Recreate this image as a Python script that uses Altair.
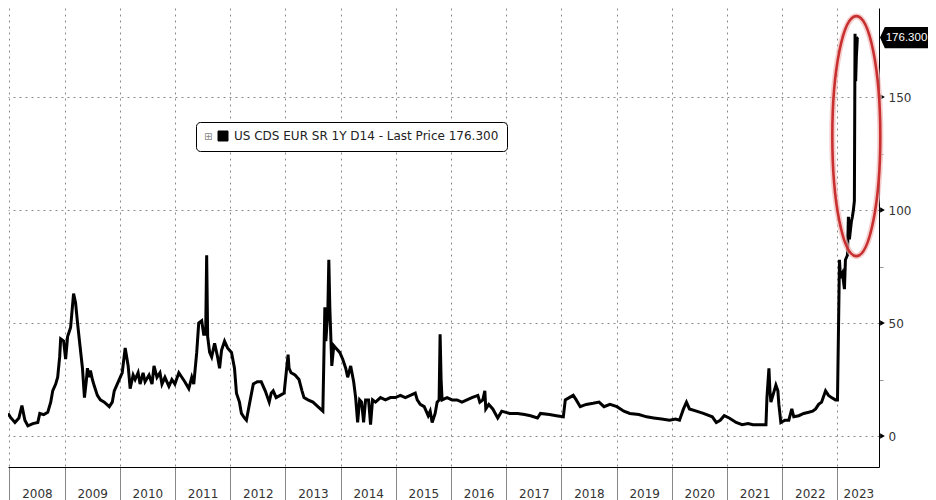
import altair as alt
import pandas as pd

FONT = "DejaVu Sans"
series_name = "US CDS EUR SR 1Y D14 - Last Price 176.300"
last_price = 176.3
last_label = "176.300"

# decimal years (time) and CDS spread values
t_years = [
    2007.975, 2008.029, 2008.101, 2008.173, 2008.227, 2008.281, 2008.335, 2008.425, 2008.515, 2008.551,
    2008.623, 2008.695, 2008.749, 2008.785, 2008.839, 2008.875, 2008.911, 2008.929, 2008.983, 2009.019,
    2009.055, 2009.109, 2009.145, 2009.163, 2009.199, 2009.235, 2009.270, 2009.324, 2009.360, 2009.396,
    2009.414, 2009.450, 2009.468, 2009.504, 2009.540, 2009.594, 2009.648, 2009.720, 2009.810, 2009.864,
    2009.900, 2009.990, 2010.044, 2010.098, 2010.152, 2010.188, 2010.242, 2010.278, 2010.332, 2010.368,
    2010.422, 2010.458, 2010.530, 2010.584, 2010.620, 2010.674, 2010.728, 2010.764, 2010.818, 2010.890,
    2010.944, 2010.998, 2011.070, 2011.124, 2011.178, 2011.250, 2011.304, 2011.340, 2011.394, 2011.430,
    2011.484, 2011.520, 2011.556, 2011.574, 2011.592, 2011.628, 2011.664, 2011.718, 2011.772, 2011.808,
    2011.844, 2011.898, 2011.952, 2012.024, 2012.078, 2012.114, 2012.168, 2012.204, 2012.258, 2012.294,
    2012.348, 2012.419, 2012.491, 2012.563, 2012.635, 2012.707, 2012.743, 2012.779, 2012.833, 2012.905,
    2012.977, 2013.049, 2013.067, 2013.103, 2013.175, 2013.247, 2013.301, 2013.337, 2013.409, 2013.499,
    2013.589, 2013.679, 2013.715, 2013.733, 2013.769, 2013.787, 2013.805, 2013.841, 2013.877, 2013.913,
    2013.985, 2014.039, 2014.093, 2014.129, 2014.183, 2014.237, 2014.273, 2014.309, 2014.345, 2014.381,
    2014.417, 2014.453, 2014.507, 2014.543, 2014.579, 2014.633, 2014.723, 2014.813, 2014.903, 2014.993,
    2015.083, 2015.173, 2015.263, 2015.353, 2015.389, 2015.443, 2015.515, 2015.587, 2015.623, 2015.659,
    2015.713, 2015.749, 2015.785, 2015.803, 2015.821, 2015.839, 2015.929, 2016.019, 2016.109, 2016.199,
    2016.289, 2016.379, 2016.487, 2016.523, 2016.577, 2016.613, 2016.631, 2016.685, 2016.757, 2016.847,
    2016.919, 2017.063, 2017.207, 2017.333, 2017.441, 2017.567, 2017.621, 2017.783, 2017.909, 2018.035,
    2018.071, 2018.143, 2018.215, 2018.269, 2018.341, 2018.449, 2018.575, 2018.683, 2018.772, 2018.880,
    2019.006, 2019.132, 2019.240, 2019.402, 2019.546, 2019.672, 2019.816, 2019.960, 2020.068, 2020.140,
    2020.212, 2020.266, 2020.320, 2020.446, 2020.572, 2020.734, 2020.806, 2020.878, 2020.950, 2021.040,
    2021.166, 2021.274, 2021.382, 2021.472, 2021.562, 2021.706, 2021.724, 2021.760, 2021.778, 2021.796,
    2021.832, 2021.886, 2021.922, 2021.940, 2021.976, 2022.048, 2022.120, 2022.174, 2022.210, 2022.300,
    2022.390, 2022.480, 2022.552, 2022.606, 2022.660, 2022.714, 2022.786, 2022.840, 2022.894, 2022.966,
    2023.002, 2023.038, 2023.056, 2023.092, 2023.128, 2023.146, 2023.182, 2023.200, 2023.218, 2023.254,
    2023.272, 2023.290, 2023.308, 2023.320, 2023.331, 2023.344, 2023.362, 2023.380,
]
cds_values = [
    10, 8, 6, 8, 13.5, 7, 4.5, 5.5, 6, 10,
    9.5, 10.5, 15, 20, 23, 26, 35, 43, 42, 34,
    44, 48, 58, 63, 59, 50, 42, 30, 17, 25,
    30, 26, 29, 25, 22, 18, 16, 15, 13, 15,
    20, 25, 28, 39, 31, 21, 27, 25, 28, 23,
    28, 24, 27, 23, 31, 26, 28, 23, 26, 22,
    25, 23, 28, 26, 24, 21, 26, 23, 37, 50,
    51, 45, 45, 80, 44, 37, 35, 41, 35, 30,
    38, 42, 39, 37, 30, 19, 15, 10, 8, 7,
    14, 23, 24, 24, 20, 15, 19, 20, 17, 18,
    19, 36, 30, 28, 27, 25, 20, 17, 16, 15,
    13, 11, 57, 42, 55, 78, 57, 31, 40, 39,
    37, 34, 30, 26, 31, 24, 17, 6, 16, 15,
    6, 16, 16, 5, 16, 15, 17, 16, 17, 17,
    18, 17, 18, 19, 16, 14, 13, 9, 11, 6,
    10, 15, 16, 45, 25, 16, 17, 16, 16, 15,
    16, 17, 18, 15, 16, 20, 12, 14, 12, 8,
    11, 10, 10, 9.5, 9, 8, 10, 9.5, 9, 8.5,
    16, 17, 18, 16, 13, 14, 14.5, 15, 13, 14,
    13, 11, 10, 9.5, 8.5, 8, 7.5, 7, 7.5, 7,
    12, 15, 12, 11, 10, 8.5, 6, 7, 9, 8,
    6, 5, 5.5, 5, 5, 5, 17, 30, 20, 15,
    18, 22.5, 20, 14, 6, 7, 7, 12, 8.5, 9,
    10, 10.5, 11, 12, 14, 15, 20, 18, 17, 16,
    16, 78, 70, 72, 65, 78, 80, 97, 87, 95,
    97, 100, 104, 178, 157, 168, 176, 176.3,
]

year_ticks = list(range(2008, 2024))
y_ticks = [0, 25, 50, 75, 100, 125, 150]
major_ticks = [0, 50, 100, 150]
ellipse_t = [2023.343]
ellipse_v = [132.7]

W, H = 871, 459
x_dom = [2007.975, 2023.754]
y_dom = [-13.7, 189.4]

df = pd.DataFrame({"t": t_years, "v": cds_values, "s": series_name})
df_major = pd.DataFrame({"v": major_ticks})
df_ell = pd.DataFrame({"t": ellipse_t, "v": ellipse_v})
df_last = pd.DataFrame({"v": [last_price], "label": [last_label]})

xs = alt.Scale(domain=x_dom, nice=False, zero=False)
ys = alt.Scale(domain=y_dom, nice=False, zero=False)

GRID = "#8a8a8a"
x_axis = alt.Axis(
    values=year_ticks, format="d", title=None,
    grid=True, gridDash=[2, 4], gridColor=GRID, gridWidth=1,
    tickSize=33, tickColor="#888", tickWidth=1,
    domainColor="#000", domainWidth=1,
    labelOffset={"condition": {"test": "datum.value === 2023", "value": 21}, "value": 27.6},
    labelPadding=-7, labelBaseline="middle", labelAlign="center",
    labelFont=FONT, labelFontSize=12, labelColor="#333",
    labelFlush=False, labelOverlap=False, labelBound=False,
)
y_axis = alt.Axis(
    orient="right", values=y_ticks, title=None,
    labelExpr="datum.value % 50 === 0 ? datum.label : ''",
    grid=True, gridDash=[2, 4], gridColor=GRID, gridWidth=1,
    gridOpacity={"condition": {"test": "datum.value % 50 === 0", "value": 1}, "value": 0},
    tickSize=4, tickColor="#999", tickWidth=1,
    domainColor="#000", domainWidth=1,
    labelPadding=5, labelFont=FONT, labelFontSize=12, labelColor="#333",
    labelOverlap=False,
)

line = alt.Chart(df).mark_line(strokeWidth=3).encode(
    x=alt.X("t:Q", scale=xs, axis=x_axis),
    y=alt.Y("v:Q", scale=ys, axis=y_axis),
    color=alt.Color(
        "s:N", scale=alt.Scale(range=["#000000"]),
        legend=alt.Legend(
            title="⊞", titleOrient="left", titleFontSize=10, titleColor="#888",
            titleFontWeight="normal", titlePadding=4, titleFont=FONT,
            orient="none", legendX=188, legendY=114,
            fillColor="#ffffff", strokeColor="#000000", cornerRadius=4, padding=8,
            symbolType="square", symbolSize=100, symbolFillColor="#000000",
            symbolStrokeColor="#000000", symbolStrokeWidth=1,
            labelFont=FONT, labelFontSize=12, labelColor="#222", labelLimit=400, labelOffset=5,
        ),
    ),
)

tri = alt.Chart(df_major).mark_point(shape="triangle-right", filled=True, color="#000", size=30, opacity=1).encode(
    x=alt.value(W + 3.5),
    y=alt.Y("v:Q", scale=ys),
)

ell_path = "M0,-1A0.2,1,0,1,1,0,1A0.2,1,0,1,1,0,-1Z"
ell_glow = alt.Chart(df_ell).mark_point(shape=ell_path, size=57600, filled=False, stroke="#f2b8b8", strokeWidth=6, opacity=0.7).encode(
    x=alt.X("t:Q", scale=xs), y=alt.Y("v:Q", scale=ys)
)
ell = alt.Chart(df_ell).mark_point(shape=ell_path, size=57600, filled=False, stroke="#c8302f", strokeWidth=2.6, opacity=1).encode(
    x=alt.X("t:Q", scale=xs), y=alt.Y("v:Q", scale=ys)
)

tag_path = "M-1,0L-0.8,-0.44L1,-0.44L1,0.44L-0.8,0.44Z"
tag = alt.Chart(df_last).mark_point(shape=tag_path, size=2304, filled=True, color="#000", opacity=1).encode(
    x=alt.value(W + 25), y=alt.Y("v:Q", scale=ys)
)
tag_text = alt.Chart(df_last).mark_text(color="#fff", font="Liberation Sans", fontSize=11.5, align="center", baseline="middle").encode(
    x=alt.value(W + 27.5), y=alt.Y("v:Q", scale=ys), text="label:N"
)

chart = alt.layer(line, tri, ell_glow, ell, tag, tag_text).properties(
    width=W, height=H,
    padding={"left": 0, "top": 0, "right": 49, "bottom": 33},
    autosize=alt.AutoSizeParams(type="none"),
    background="#ffffff",
).configure_view(stroke=None)

chart.save("out.html", embed_options={"renderer": "svg", "actions": False})
